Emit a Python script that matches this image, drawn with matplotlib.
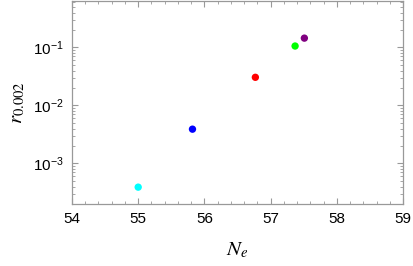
import matplotlib.pyplot as plt
from matplotlib.ticker import LogLocator, MultipleLocator

plt.rcParams["font.family"] = ["Liberation Sans", "DejaVu Sans"]
plt.rcParams["mathtext.fontset"] = "stix"

n_e = [55.0, 55.82, 56.77, 57.37, 57.51]
r_vals = [3.9e-4, 3.9e-3, 0.0306, 0.106, 0.145]
cores = ["#00ffff", "#0000ff", "#ff0000", "#00ff00", "#800080"]

fig = plt.figure(figsize=(4.13, 2.66), dpi=100)
ax = fig.add_axes([0.1743, 0.233, 0.8015, 0.765])

ax.scatter(n_e, r_vals, c=cores, s=28, edgecolors="none", zorder=3)

ax.set_yscale("log")
ax.set_xlim(54, 59)
ax.set_ylim(10 ** -3.7, 10 ** -0.19)
ax.xaxis.set_major_locator(MultipleLocator(1))
ax.xaxis.set_minor_locator(MultipleLocator(0.2))
ax.yaxis.set_major_locator(LogLocator(base=10, numticks=10))
ax.yaxis.set_minor_locator(LogLocator(base=10, subs=range(2, 10), numticks=10))

for lado in ax.spines.values():
    lado.set_color("#999999")
    lado.set_linewidth(0.9)

ax.tick_params(which="both", direction="in", top=True, right=True,
               color="#999999", labelsize=11, labelcolor="black", pad=6)
ax.tick_params(which="major", length=4, width=0.8)
ax.tick_params(which="minor", length=2, width=0.6)

ax.set_xlabel(r"$N_e$", fontsize=15, labelpad=10)
ax.set_ylabel(r"$r_{0.002}$", fontsize=15, labelpad=4)

fig.savefig("out.png", dpi=100)
